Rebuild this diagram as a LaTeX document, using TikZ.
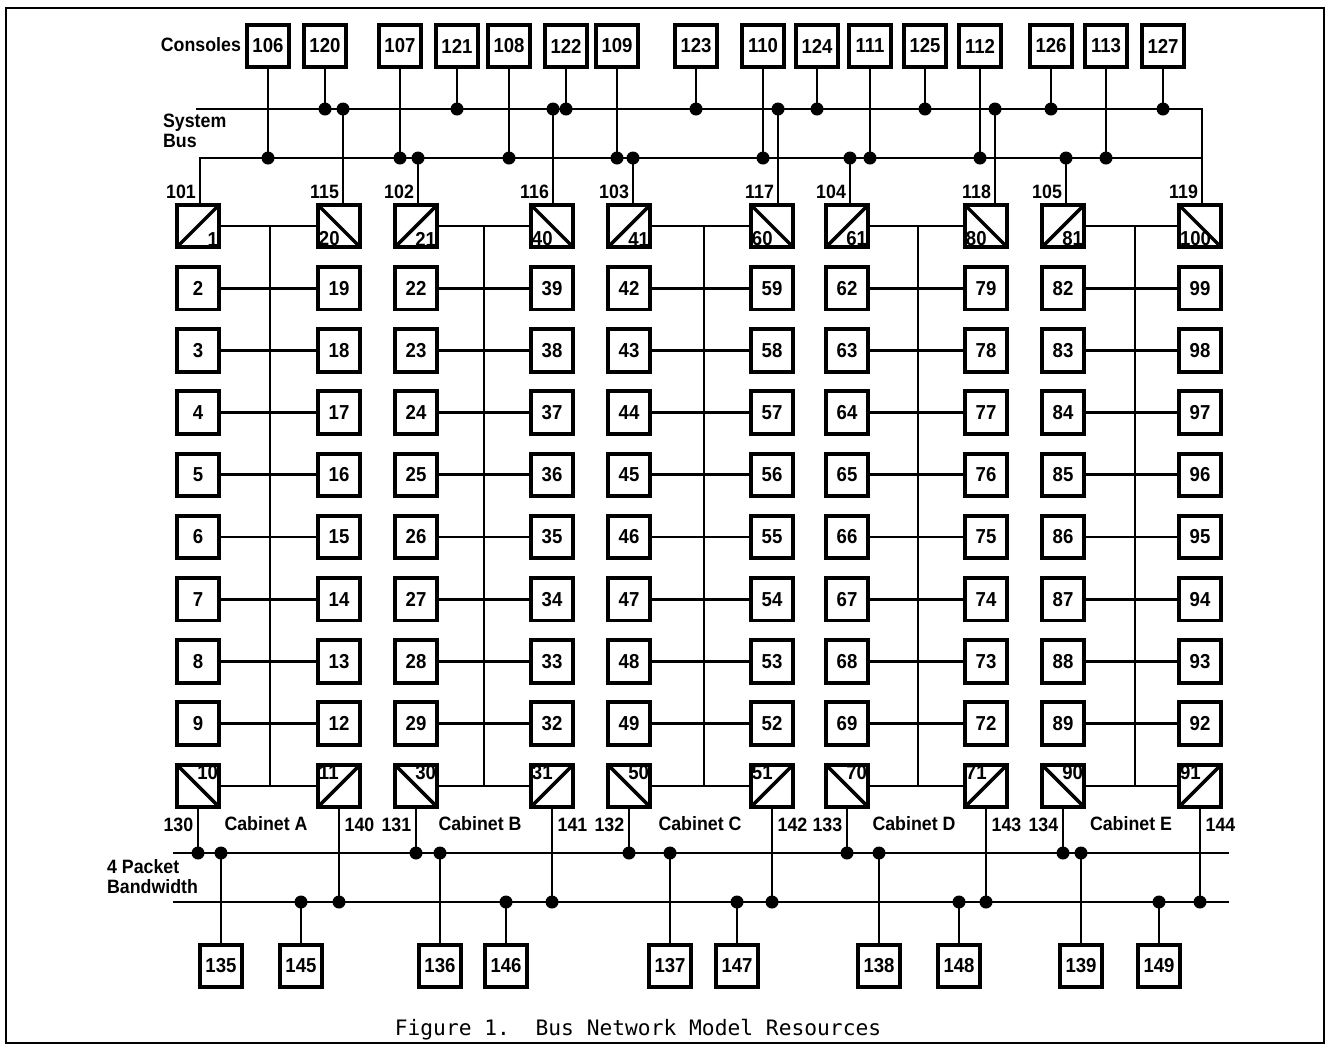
\documentclass[tikz,border=0pt]{standalone}
\usepackage{fontspec}
\usepackage{tikz}
\usetikzlibrary{calc}
\newfontfamily\diafont[FakeStretch=0.92]{Liberation Sans}
\newfontfamily\capfont{DejaVu Sans Mono}
\newcommand{\cellfont}{\diafont\bfseries\fontsize{11.5}{13}\selectfont}
\newcommand{\tagfont}{\diafont\bfseries\fontsize{11}{11.6}\selectfont}

\tikzset{
  cell/.style={draw, line width=2.2pt, minimum size=0.85cm, inner sep=0pt, font=\cellfont},
  slashbox/.style={cell, path picture={\draw[line width=2pt] (path picture bounding box.south west) -- (path picture bounding box.north east);}},
  bslashbox/.style={cell, path picture={\draw[line width=2pt] (path picture bounding box.north west) -- (path picture bounding box.south east);}},
  cornerlbl/.style={font=\cellfont, inner sep=1.6pt},
  wire/.style={line width=1.5pt},
  junction/.style={circle, fill=black, inner sep=0pt, minimum size=7.4pt},
  lbl/.style={font=\tagfont, inner sep=1pt},
}

\begin{document}
\begin{tikzpicture}[x=0.02cm, y=-0.02cm]
    \useasboundingbox (0,0) rectangle (1331,1046);

    % Outer frame
    \draw[line width=1.2pt] (6,8) rectangle (1324,1043);

    % Bus heights
    \coordinate (sysU) at (0,109);
    \coordinate (sysL) at (0,158);
    \coordinate (pkU) at (0,853);
    \coordinate (pkL) at (0,902);

    % 4 packet bandwidth bus lines
    \coordinate (pkU0) at (173,853);
    \coordinate (pkU1) at (1229,853);
    \coordinate (pkL0) at (173,902);
    \coordinate (pkL1) at (1229,902);
    \draw[wire] (pkU0) -- (pkU1);
    \draw[wire] (pkL0) -- (pkL1);

    % Cabinets A--E: two columns of ten units, rungs and spine
    \foreach \c/\xl/\xr/\xs/\cab in {0/198/339/270/A, 1/416/552/484/B, 2/629/772/704/C, 3/847/986/918/D, 4/1063/1200/1135/E} {
        \coordinate (sp\c) at (\xs,0);
        \foreach \r in {1,...,10} {
            \pgfmathtruncatemacro\nl{20*\c+\r}
            \pgfmathtruncatemacro\nr{20*\c+21-\r}
            \pgfmathsetmacro\rowy{226+62.2*(\r-1)}
            \ifnum\r=1
                \node[slashbox, label={[cornerlbl, anchor=south east]south east:\nl}] (b\nl) at (\xl,\rowy) {};
                \node[bslashbox, label={[cornerlbl, anchor=south west]south west:\nr}] (b\nr) at (\xr,\rowy) {};
            \else\ifnum\r=10
                \node[bslashbox, label={[cornerlbl, anchor=north east]north east:\nl}] (b\nl) at (\xl,\rowy) {};
                \node[slashbox, label={[cornerlbl, anchor=north west]north west:\nr}] (b\nr) at (\xr,\rowy) {};
            \else
                \node[cell] (b\nl) at (\xl,\rowy) {\nl};
                \node[cell] (b\nr) at (\xr,\rowy) {\nr};
            \fi\fi
            \draw[wire] (b\nl.east) -- (b\nr.west);
        }
        \pgfmathtruncatemacro\ntop{20*\c+1}
        \pgfmathtruncatemacro\nbot{20*\c+10}
        \pgfmathtruncatemacro\nbr{20*\c+11}
        \pgfmathtruncatemacro\tl{130+\c}
        \pgfmathtruncatemacro\tr{140+\c}
        \draw[wire] (b\ntop.east -| sp\c) -- (b\nbot.east -| sp\c);
        % drops to the packet buses
        \draw[wire] (b\nbot.south) -- (b\nbot.south |- pkU) node[junction] (j\nbot) {};
        \draw[wire] (b\nbr.south) -- (b\nbr.south |- pkL) node[junction] (j\nbr) {};
        \node[lbl, anchor=north east] (t\tl) at ([xshift=-1.5pt, yshift=-4pt]b\nbot.south) {\tl};
        \node[lbl, anchor=north west] (t\tr) at ([xshift=2pt, yshift=-4pt]b\nbr.south) {\tr};
        \node[lbl] (cab\cab) at (\xs-4,824) {Cabinet \cab};
    }

    % System bus
    \coordinate (sysU0) at (196,109);
    \coordinate (sysL0) at ($(b1.north)+(2,0)$);
    \coordinate (sysR0) at ($(b100.north)+(2,0)$);
    \draw[wire] (sysL0) |- (sysR0 |- sysL);
    \draw[wire] (sysU0) -- (sysR0 |- sysU) -- (sysR0);

    % Top units onto the system bus
    \foreach \n/\bus/\dx in {20/U/4, 21/L/2, 40/U/1, 41/L/4, 60/U/6, 61/L/3, 80/U/9, 81/L/3} {
        \coordinate (u\n) at ($(b\n.north)+(\dx,0)$);
        \draw[wire] (u\n) -- (u\n |- sys\bus) node[junction] (s\n) {};
    }
    \foreach \n/\t/\dx in {1/101/2, 20/115/4, 21/102/2, 40/116/1, 41/103/4, 60/117/6, 61/104/3, 80/118/9, 81/105/3, 100/119/2} {
        \node[lbl, anchor=south east] (l\t) at ($(b\n.north)+(\dx-2,-2)$) {\t};
    }

    % Consoles
    \foreach \n/\x/\bus in {106/268/L, 120/325/U, 107/400/L, 121/457/U, 108/509/L, 122/566/U, 109/617/L, 123/696/U, 110/763/L, 124/817/U, 111/870/L, 125/925/U, 112/980/L, 126/1051/U, 113/1106/L, 127/1163/U} {
        \node[cell] (c\n) at (\x,46) {\n};
        \draw[wire] (c\n.south) -- (c\n.south |- sys\bus) node[junction] (d\n) {};
    }

    % Units on the packet buses
    \foreach \n/\x/\bus in {135/221/U, 145/301/L, 136/440/U, 146/506/L, 137/670/U, 147/737/L, 138/879/U, 148/959/L, 139/1081/U, 149/1159/L} {
        \node[cell] (p\n) at (\x,966) {\n};
        \draw[wire] (p\n.north) -- (p\n.north |- pk\bus) node[junction] (q\n) {};
    }

    % Texts
    \node[lbl, anchor=east] (consoles) at (243,45) {Consoles};
    \node[lbl, anchor=north west, align=left] (sysbus) at (161,112) {System\\Bus};
    \node[lbl, anchor=north west, align=left] (pkbw) at (105,857) {4 Packet\\Bandwidth};
    \node[font=\capfont\fontsize{12.1}{14}\selectfont] (caption) at (638,1030) {Figure 1.\ \ Bus Network Model Resources};
\end{tikzpicture}
\end{document}
